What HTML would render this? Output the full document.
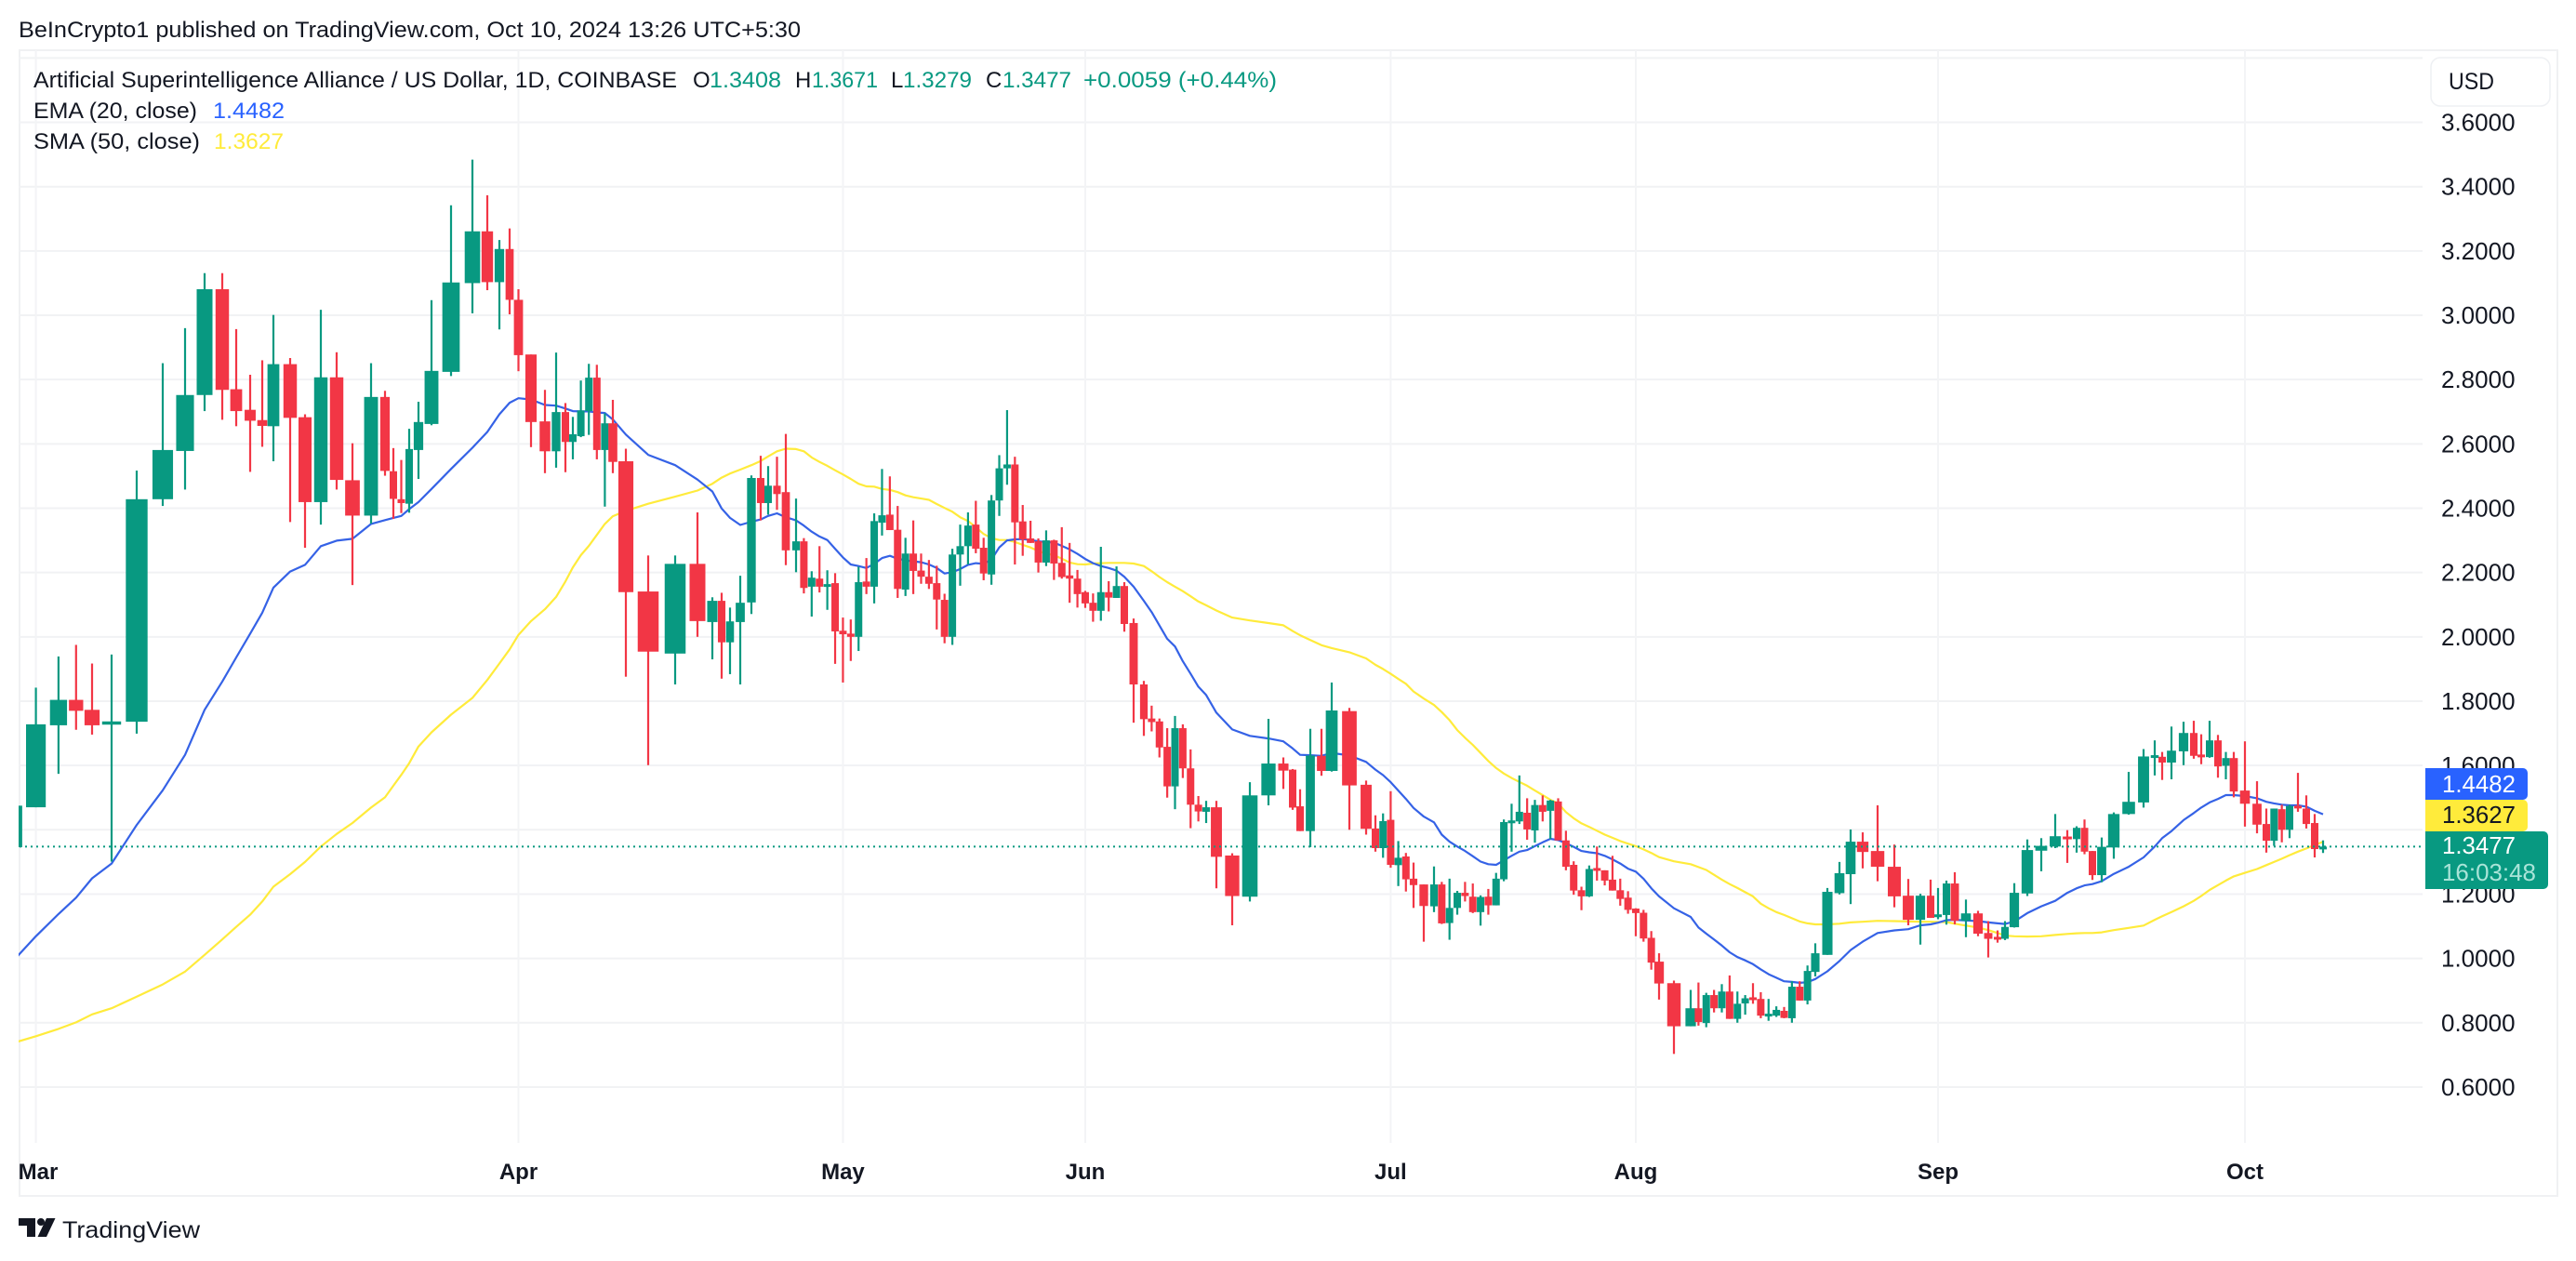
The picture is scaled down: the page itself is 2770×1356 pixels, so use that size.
<!DOCTYPE html>
<html lang="en">
<head>
<meta charset="utf-8">
<title>ASI / USD chart</title>
<style>
html,body{margin:0;padding:0;background:#fff;width:2770px;height:1356px;overflow:hidden}
svg{display:block}
text{font-family:"Liberation Sans",sans-serif;fill:#131722}
</style>
</head>
<body>
<svg id="chart" xmlns="http://www.w3.org/2000/svg" width="2770" height="1356" viewBox="0 0 2770 1356">
  <defs>
    <clipPath id="pane-clip"><rect x="20" y="54" width="2585" height="1175"/></clipPath>
  </defs>
  <rect x="0" y="0" width="2770" height="1356" fill="#ffffff"/>
  <text x="20" y="40" font-size="24" textLength="841" lengthAdjust="spacingAndGlyphs">BeInCrypto1 published on TradingView.com, Oct 10, 2024 13:26 UTC+5:30</text>
  <rect x="21" y="54" width="2729" height="1232" fill="none" stroke="#f0f1f3" stroke-width="2"/>
  <g id="grid"></g>
  <g id="indicators" clip-path="url(#pane-clip)"></g>
  <g id="candles" clip-path="url(#pane-clip)"></g>
  <g id="last-line"></g>
  <g id="price-axis"></g>
  <g id="time-axis"></g>

  <g font-size="24">
    <text x="36" y="94" textLength="692" lengthAdjust="spacingAndGlyphs">Artificial Superintelligence Alliance / US Dollar, 1D, COINBASE</text>
    <text x="745" y="94">O</text>
    <text x="763" y="94" style="fill:#089981" textLength="77" lengthAdjust="spacingAndGlyphs">1.3408</text>
    <text x="855" y="94">H</text>
    <text x="873" y="94" style="fill:#089981" textLength="71" lengthAdjust="spacingAndGlyphs">1.3671</text>
    <text x="958" y="94">L</text>
    <text x="971" y="94" style="fill:#089981" textLength="74" lengthAdjust="spacingAndGlyphs">1.3279</text>
    <text x="1060" y="94">C</text>
    <text x="1078" y="94" style="fill:#089981" textLength="74" lengthAdjust="spacingAndGlyphs">1.3477</text>
    <text x="1165" y="94" style="fill:#089981" textLength="208" lengthAdjust="spacingAndGlyphs">+0.0059 (+0.44%)</text>
    <text x="36" y="127" textLength="176" lengthAdjust="spacingAndGlyphs">EMA (20, close)</text>
    <text x="229" y="127" style="fill:#2962ff" textLength="77" lengthAdjust="spacingAndGlyphs">1.4482</text>
    <text x="36" y="160" textLength="179" lengthAdjust="spacingAndGlyphs">SMA (50, close)</text>
    <text x="230" y="160" style="fill:#ffeb3b" textLength="75" lengthAdjust="spacingAndGlyphs">1.3627</text>
  </g>

  <g>
    <rect x="2614" y="62" width="128" height="52" rx="10" fill="#ffffff" stroke="#eef0f3" stroke-width="1.5"/>
    <text x="2633" y="96" font-size="25" textLength="49" lengthAdjust="spacingAndGlyphs">USD</text>
  </g>

  <g font-size="26">
    <path d="M2608 826H2713a5 5 0 0 1 5 5V855a5 5 0 0 1 -5 5H2608Z" fill="#2962ff"/>
    <text x="2626" y="852" style="fill:#ffffff" textLength="79" lengthAdjust="spacingAndGlyphs">1.4482</text>
    <path d="M2608 860H2713a5 5 0 0 1 5 5V889a5 5 0 0 1 -5 5H2608Z" fill="#ffeb3b"/>
    <text x="2626" y="885" style="fill:#131722" textLength="79" lengthAdjust="spacingAndGlyphs">1.3627</text>
    <path d="M2608 894H2735a5 5 0 0 1 5 5V951a5 5 0 0 1 -5 5H2608Z" fill="#089981"/>
    <text x="2626" y="918" style="fill:#ffffff" textLength="79" lengthAdjust="spacingAndGlyphs">1.3477</text>
    <text x="2626" y="947" style="fill:#a9e4d8" textLength="101" lengthAdjust="spacingAndGlyphs">16:03:48</text>
  </g>

  <g>
    <g fill="#131722">
      <path d="M20 1310H38V1330H29V1318H20Z"/>
      <circle cx="44" cy="1314" r="4"/>
      <path d="M50 1310H59.5L50 1330H40.5Z"/>
    </g>
    <text x="67" y="1331" font-size="25" textLength="148" lengthAdjust="spacingAndGlyphs">TradingView</text>
  </g>
</svg>
<script>
const priceTicks = [3.8,3.6,3.4,3.2,3.0,2.8,2.6,2.4,2.2,2.0,1.8,1.6,1.4,1.2,1.0,0.8,0.6];
const monthLabels = ["Mar","Apr","May","Jun","Jul","Aug","Sep","Oct"];
const monthStartSessions = [1,32,62,93,123,154,185,215];
const lastClose = 1.3477;

const opens = [
1.346,1.470,1.725,1.804,1.773,1.727,1.736,2.428,2.578,2.752,
3.081,2.770,2.706,2.674,2.655,2.848,2.683,2.419,2.807,2.487,
2.377,2.746,2.515,2.428,2.414,2.581,2.662,2.824,3.100,3.261,
3.103,3.206,3.048,2.878,2.670,2.577,2.699,2.606,2.624,2.702,
2.806,2.581,2.664,2.546,2.141,1.948,2.227,2.046,2.112,1.983,
2.046,2.107,2.494,2.416,2.470,2.450,2.269,2.297,2.156,2.181,
2.156,2.167,2.019,2.010,2.000,2.172,2.156,2.355,2.380,2.333,
2.147,2.259,2.206,2.187,2.167,2.115,2.000,2.256,2.282,2.349,
2.277,2.194,2.424,2.524,2.536,2.359,2.306,2.297,2.231,2.300,
2.230,2.191,2.181,2.139,2.106,2.081,2.139,2.121,2.158,2.043,
1.852,1.746,1.737,1.658,1.535,1.716,1.591,1.478,1.456,1.470,
1.320,1.192,1.507,1.606,1.587,1.473,1.396,1.630,1.583,1.769,
1.540,1.404,1.343,1.431,1.290,1.317,1.248,1.230,1.162,1.230,
1.110,1.157,1.204,1.192,1.144,1.192,1.165,1.246,1.423,1.426,
1.453,1.398,1.477,1.459,1.488,1.367,1.291,1.212,1.193,1.281,
1.274,1.245,1.212,1.189,1.155,1.142,1.064,0.990,0.923,0.789,
0.845,0.799,0.886,0.845,0.897,0.812,0.860,0.879,0.874,0.822,
0.822,0.837,0.814,0.912,0.869,0.958,1.011,1.203,1.262,1.363,
1.334,1.285,1.195,1.120,1.195,1.129,1.135,1.233,1.117,1.140,
1.079,1.067,1.061,1.097,1.202,1.335,1.348,1.379,1.371,1.406,
1.334,1.259,1.345,1.449,1.485,1.628,1.627,1.609,1.644,1.701,
1.634,1.626,1.678,1.599,1.623,1.522,1.481,1.418,1.366,1.464,
1.400,1.475,1.466,1.421,1.3408];

const highs = [
1.475,1.842,1.939,1.975,1.917,1.945,2.517,2.851,2.960,3.131,
3.131,2.957,2.815,2.860,3.001,2.867,2.692,3.017,2.885,2.602,
2.851,2.765,2.587,2.550,2.647,2.731,3.047,3.342,3.484,3.373,
3.234,3.270,3.081,2.878,2.768,2.884,2.727,2.684,2.797,2.849,
2.846,2.695,2.737,2.585,2.253,2.253,2.387,2.123,2.137,2.091,
2.190,2.502,2.563,2.531,2.560,2.631,2.430,2.307,2.204,2.282,
2.207,2.198,2.060,2.054,2.218,2.245,2.384,2.522,2.499,2.407,
2.308,2.362,2.259,2.239,2.221,2.134,2.274,2.349,2.387,2.423,
2.308,2.441,2.565,2.705,2.560,2.410,2.361,2.306,2.331,2.302,
2.341,2.292,2.208,2.143,2.135,2.280,2.173,2.219,2.170,2.057,
1.863,1.786,1.746,1.716,1.754,1.728,1.650,1.505,1.490,1.490,
1.327,1.548,1.745,1.625,1.589,1.526,1.714,1.714,1.858,1.779,
1.553,1.445,1.451,1.520,1.365,1.328,1.298,1.230,1.286,1.238,
1.248,1.210,1.238,1.233,1.196,1.216,1.266,1.432,1.481,1.569,
1.498,1.493,1.507,1.493,1.498,1.397,1.302,1.223,1.289,1.348,
1.274,1.319,1.248,1.209,1.156,1.151,1.085,1.016,0.931,0.902,
0.925,0.893,0.902,0.920,0.947,0.897,0.886,0.923,0.895,0.874,
0.851,0.849,0.929,0.929,0.978,1.047,1.219,1.300,1.401,1.392,
1.476,1.354,1.247,1.201,1.245,1.219,1.242,1.268,1.183,1.148,
1.116,1.087,1.116,1.234,1.370,1.374,1.449,1.399,1.411,1.432,
1.334,1.376,1.454,1.580,1.651,1.678,1.642,1.721,1.736,1.739,
1.697,1.739,1.695,1.642,1.642,1.675,1.551,1.466,1.466,1.478,
1.478,1.577,1.507,1.449,1.3671];

const lows = [
1.346,1.470,1.574,1.711,1.696,1.301,1.699,2.407,2.458,2.702,
2.675,2.655,2.513,2.591,2.546,2.357,2.277,2.349,2.458,2.161,
2.352,2.501,2.367,2.385,2.386,2.491,2.658,2.811,3.006,3.078,
2.956,3.003,2.826,2.590,2.509,2.526,2.512,2.552,2.621,2.628,
2.552,2.405,2.509,1.876,1.601,1.852,2.000,1.930,1.870,1.884,
1.852,2.071,2.362,2.380,2.395,2.223,2.201,2.135,2.063,2.138,
2.084,1.916,1.858,1.925,1.956,2.133,2.104,2.315,2.332,2.121,
2.127,2.133,2.165,2.149,2.023,1.980,1.975,2.159,2.225,2.260,
2.176,2.162,2.376,2.473,2.225,2.252,2.292,2.200,2.220,2.177,
2.181,2.106,2.091,2.090,2.047,2.050,2.079,2.121,2.016,1.733,
1.692,1.706,1.625,1.500,1.464,1.561,1.405,1.426,1.421,1.218,
1.103,1.177,1.476,1.527,1.462,1.396,1.346,1.568,1.581,1.400,
1.385,1.332,1.313,1.282,1.225,1.208,1.157,1.052,1.144,1.107,
1.058,1.136,1.177,1.141,1.102,1.136,1.165,1.240,1.332,1.418,
1.369,1.360,1.426,1.371,1.367,1.274,1.198,1.150,1.191,1.242,
1.227,1.211,1.164,1.139,1.069,1.052,0.965,0.872,0.703,0.789,
0.791,0.786,0.832,0.832,0.812,0.800,0.825,0.859,0.814,0.806,
0.818,0.814,0.800,0.869,0.857,0.944,1.011,1.199,1.169,1.280,
1.240,1.159,1.103,1.043,1.126,1.122,1.105,1.106,1.066,1.069,
1.003,1.049,1.057,1.096,1.194,1.271,1.343,1.297,1.329,1.324,
1.244,1.237,1.310,1.447,1.469,1.569,1.555,1.557,1.601,1.621,
1.604,1.624,1.562,1.557,1.501,1.410,1.389,1.329,1.350,1.361,
1.374,1.456,1.404,1.314,1.3279];

const closes = [
1.475,1.728,1.804,1.770,1.725,1.737,2.428,2.581,2.752,3.081,
2.768,2.702,2.672,2.656,2.848,2.681,2.419,2.807,2.488,2.377,
2.746,2.516,2.429,2.416,2.584,2.668,2.827,3.102,3.261,3.103,
3.206,3.048,2.876,2.668,2.577,2.699,2.606,2.630,2.704,2.806,
2.581,2.664,2.544,2.139,1.954,2.227,2.049,2.112,1.983,2.048,
2.106,2.494,2.416,2.470,2.444,2.269,2.297,2.152,2.184,2.156,
2.164,2.017,2.008,2.000,2.170,2.156,2.360,2.378,2.332,2.149,
2.259,2.205,2.187,2.165,2.116,2.000,2.256,2.282,2.346,2.274,
2.197,2.424,2.524,2.536,2.356,2.303,2.292,2.231,2.300,2.228,
2.186,2.181,2.133,2.104,2.081,2.139,2.122,2.158,2.040,1.852,
1.744,1.735,1.656,1.535,1.716,1.591,1.478,1.457,1.470,1.316,
1.194,1.507,1.606,1.584,1.469,1.396,1.631,1.583,1.771,1.538,
1.403,1.343,1.427,1.291,1.313,1.246,1.228,1.163,1.230,1.109,
1.157,1.204,1.194,1.144,1.191,1.165,1.248,1.424,1.429,1.456,
1.401,1.477,1.456,1.491,1.367,1.285,1.211,1.193,1.278,1.278,
1.242,1.211,1.185,1.151,1.141,1.062,0.987,0.922,0.789,0.845,
0.802,0.886,0.845,0.897,0.812,0.859,0.876,0.874,0.822,0.828,
0.840,0.815,0.912,0.869,0.961,1.016,1.207,1.265,1.363,1.331,
1.285,1.193,1.120,1.195,1.126,1.137,1.233,1.117,1.140,1.077,
1.061,1.064,1.098,1.204,1.337,1.350,1.380,1.373,1.406,1.332,
1.259,1.347,1.449,1.487,1.628,1.632,1.609,1.646,1.701,1.630,
1.628,1.678,1.597,1.623,1.519,1.481,1.416,1.366,1.466,1.400,
1.474,1.471,1.418,1.340,1.3477];

const emaValues = [
0.989,1.069,1.138,1.189,1.249,1.295,1.415,1.523,1.633,1.773,
1.861,1.936,2.010,2.075,2.153,2.203,2.224,2.282,2.299,2.305,
2.351,2.363,2.370,2.376,2.397,2.419,2.460,2.522,2.588,2.637,
2.692,2.728,2.742,2.738,2.721,2.719,2.710,2.702,2.701,2.701,
2.698,2.696,2.676,2.629,2.566,2.534,2.489,2.452,2.399,2.370,
2.348,2.358,2.365,2.376,2.384,2.372,2.362,2.346,2.327,2.312,
2.301,2.274,2.247,2.225,2.220,2.214,2.227,2.245,2.252,2.243,
2.238,2.235,2.232,2.225,2.214,2.197,2.201,2.211,2.224,2.229,
2.227,2.240,2.278,2.300,2.303,2.304,2.301,2.297,2.295,2.293,
2.283,2.272,2.258,2.242,2.229,2.220,2.214,2.206,2.187,2.156,
2.112,2.077,2.035,1.994,1.970,1.924,1.885,1.845,1.819,1.764,
1.712,1.692,1.684,1.675,1.653,1.633,1.632,1.630,1.639,1.631,
1.611,1.587,1.570,1.548,1.522,1.496,1.468,1.441,1.423,1.385,
1.363,1.348,1.334,1.318,1.301,1.293,1.291,1.305,1.319,1.332,
1.337,1.349,1.361,1.372,1.368,1.358,1.347,1.334,1.330,1.327,
1.319,1.308,1.295,1.279,1.270,1.248,1.218,1.193,1.156,1.129,
1.096,1.077,1.059,1.040,1.019,1.004,0.994,0.982,0.966,0.951,
0.940,0.929,0.927,0.924,0.926,0.936,0.960,0.992,1.026,1.052,
1.079,1.087,1.091,1.103,1.106,1.111,1.119,1.120,1.118,1.116,
1.112,1.109,1.107,1.115,1.141,1.162,1.179,1.204,1.218,1.227,
1.231,1.240,1.263,1.285,1.314,1.348,1.374,1.396,1.430,1.452,
1.469,1.485,1.496,1.508,1.508,1.505,1.498,1.487,1.482,1.478,
1.476,1.476,1.472,1.459,1.4482];

const smaValues = [
0.736,0.758,0.781,0.801,0.826,0.845,0.881,0.919,0.959,1.011,
1.059,1.098,1.136,1.177,1.223,1.262,1.300,1.348,1.387,1.421,
1.469,1.501,1.537,1.571,1.607,1.659,1.703,1.758,1.810,1.866,
1.917,1.961,2.006,2.049,2.086,2.124,2.172,2.216,2.254,2.283,
2.317,2.351,2.375,2.392,2.414,2.436,2.455,2.476,2.495,2.508,
2.520,2.534,2.547,2.561,2.577,2.585,2.584,2.577,2.558,2.544,
2.532,2.518,2.505,2.491,2.476,2.468,2.467,2.460,2.457,2.450,
2.440,2.434,2.430,2.426,2.413,2.401,2.389,2.372,2.360,2.341,
2.320,2.307,2.301,2.301,2.295,2.286,2.278,2.267,2.259,2.254,
2.243,2.231,2.226,2.225,2.228,2.229,2.230,2.230,2.230,2.228,
2.220,2.204,2.186,2.170,2.156,2.142,2.126,2.110,2.098,2.082,
2.060,2.051,2.043,2.036,2.018,2.005,1.990,1.974,1.965,1.952,
1.933,1.913,1.900,1.885,1.869,1.854,1.830,1.808,1.788,1.766,
1.741,1.710,1.686,1.664,1.639,1.614,1.592,1.575,1.561,1.549,
1.537,1.522,1.508,1.493,1.482,1.455,1.436,1.420,1.409,1.397,
1.385,1.375,1.365,1.357,1.349,1.339,1.328,1.315,1.302,1.293,
1.284,1.275,1.260,1.245,1.231,1.219,1.206,1.193,1.170,1.156,
1.144,1.135,1.125,1.115,1.109,1.106,1.106,1.108,1.112,1.114,
1.117,1.116,1.115,1.114,1.114,1.113,1.113,1.108,1.102,1.096,
1.088,1.079,1.071,1.069,1.068,1.069,1.073,1.076,1.078,1.079,
1.079,1.081,1.088,1.095,1.102,1.120,1.131,1.144,1.162,1.179,
1.194,1.213,1.228,1.242,1.255,1.266,1.278,1.290,1.300,1.310,
1.321,1.332,1.342,1.353,1.3627];

/* Axis functions. The reference time axis is not linear, so it is a polylinear scale (session -> pixel). */
function yAxis(price){
  return 200.7 + (3.4 - price) * 345.8;
}
function xAxis(session){
  const k = [[0,13],[1,38.6],[2,62.9],[3,81.8],[4,99],[5,120],[6,147],[7,175],[8,199],[9,220],[10,239],[11,254],[12,269],[13,282],[14,294],[15,312],[16,328],[17,345],[18,362],[19,379],[20,399],[21,414],[22,423],[24,440],[25,450],[26,464],[27,485],[28,508],[29,524],[30,537],[31,548],[32,557.5],[33,571],[34,586],[35,598],[36,608],[37,616],[42,659],[43,673],[44,697],[45,726],[46,750],[47,766],[48,776],[49,785],[50,796],[51,808],[52,818],[53,826],[55,845],[56,856],[98,1209],[99,1219],[100,1230],[108,1297],[109,1308],[110,1325],[111,1344],[112,1364],[113,1380],[114,1390],[115,1398],[116,1409],[117,1421],[118,1432],[119,1451],[120,1469],[121,1479],[126,1520],[127,1531],[128,1542],[157,1784],[158,1800],[159,1818],[175,1952],[176,1965],[177,1978],[178,1990],[179,2003],[180,2019],[181,2037],[182,2052],[183,2065],[184,2076],[185,2084],[187,2102],[188,2114],[189,2127],[190,2138],[191,2148],[192,2156],[193,2166],[194,2180],[195,2195],[196,2210],[197,2223],[198,2233],[200,2250],[201,2260],[202,2273],[203,2289],[204,2305],[205,2317],[206,2325],[207,2335],[208,2348],[209,2359],[210,2367],[211,2376],[212,2385],[214,2402],[215,2414],[216,2427],[217,2437],[220,2462],[221,2471],[224,2498]];
  let a = k[0], b = k[1];
  for (let j = 1; j < k.length; j++) {
    a = k[j-1];
    b = k[j];
    if (session <= b[0]) break;
  }
  return a[1] + (session - a[0]) * (b[1] - a[1]) / (b[0] - a[0]);
}
function bodyWidth(session){
  const pitch = (xAxis(session + 1) - xAxis(session - 1)) / 2;
  return Math.max(8, pitch * 0.85);
}

const NS = "http://www.w3.org/2000/svg";
const gridGroup = document.getElementById("grid");
const indicatorGroup = document.getElementById("indicators");
const candleGroup = document.getElementById("candles");
const lastGroup = document.getElementById("last-line");
const priceAxisGroup = document.getElementById("price-axis");
const timeAxisGroup = document.getElementById("time-axis");

priceTicks.forEach(function(tick, t){
  const line = document.createElementNS(NS, "line");
  
  
  line.setAttribute("x1", 20);
  line.setAttribute("x2", 2605);
  line.setAttribute("y1", yAxis(tick));
  line.setAttribute("y2", yAxis(tick));
  line.setAttribute("stroke", "#f1f2f4");
  line.setAttribute("stroke-width", 2);
  gridGroup.appendChild(line);
  if (t === 0) return;
  const label = document.createElementNS(NS, "text");
  
  
  label.setAttribute("x", 2625);
  label.setAttribute("y", yAxis(tick) + 9);
  label.setAttribute("font-size", 26);
  label.textContent = tick.toFixed(4);
  priceAxisGroup.appendChild(label);
});

monthLabels.forEach(function(month, m){
  const px = xAxis(monthStartSessions[m]);
  const line = document.createElementNS(NS, "line");
  
  
  line.setAttribute("x1", px);
  line.setAttribute("x2", px);
  line.setAttribute("y1", 54);
  line.setAttribute("y2", 1229);
  line.setAttribute("stroke", "#f3f4f6");
  line.setAttribute("stroke-width", 2);
  gridGroup.appendChild(line);
  const label = document.createElementNS(NS, "text");
  
  
  label.setAttribute("x", Math.max(41, px));
  label.setAttribute("y", 1268);
  label.setAttribute("font-size", 24);
  label.setAttribute("font-weight", "700");
  label.setAttribute("text-anchor", "middle");
  label.textContent = month;
  timeAxisGroup.appendChild(label);
});

function drawIndicator(values, color, width, name){
  const line = document.createElementNS(NS, "polyline");
  
  
  line.setAttribute("points", values.map(function(v, i){ return xAxis(i).toFixed(1) + "," + yAxis(v).toFixed(1); }).join(" "));
  line.setAttribute("fill", "none");
  line.setAttribute("stroke", color);
  line.setAttribute("stroke-width", width);
  line.setAttribute("stroke-linejoin", "round");
  indicatorGroup.appendChild(line);
}
drawIndicator(smaValues, "#ffeb3b", 2.2, "sma-line");
drawIndicator(emaValues, "#3562e6", 2.2, "ema-line");

opens.forEach(function(open, i){
  const close = closes[i];
  const color = close >= open ? "#089981" : "#f23645";
  const px = xAxis(i);
  const w = bodyWidth(i);
  const top = yAxis(Math.max(open, close));
  const bottom = yAxis(Math.min(open, close));
  const wick = document.createElementNS(NS, "rect");
  
  
  wick.setAttribute("x", px - 1.1);
  wick.setAttribute("y", yAxis(highs[i]));
  wick.setAttribute("width", 2.2);
  wick.setAttribute("height", Math.max(1, yAxis(lows[i]) - yAxis(highs[i])));
  wick.setAttribute("fill", color);
  candleGroup.appendChild(wick);
  const body = document.createElementNS(NS, "rect");
  
  
  body.setAttribute("x", px - w / 2);
  body.setAttribute("y", top);
  body.setAttribute("width", w);
  body.setAttribute("height", Math.max(3, bottom - top));
  body.setAttribute("fill", color);
  candleGroup.appendChild(body);
});

const lastLine = document.createElementNS(NS, "line");


lastLine.setAttribute("x1", 21);
lastLine.setAttribute("x2", 2605);
lastLine.setAttribute("y1", yAxis(lastClose));
lastLine.setAttribute("y2", yAxis(lastClose));
lastLine.setAttribute("stroke", "#089981");
lastLine.setAttribute("stroke-width", 2);
lastLine.setAttribute("stroke-dasharray", "2 4");
lastGroup.appendChild(lastLine);
</script>
</body>
</html>
